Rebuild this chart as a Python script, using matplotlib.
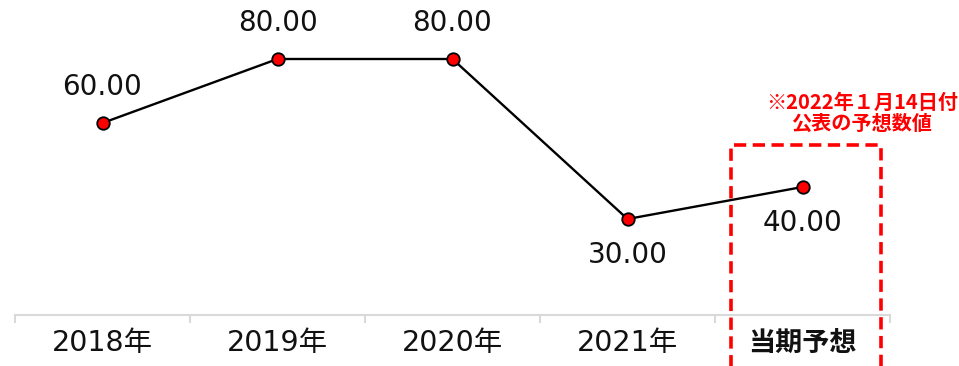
import matplotlib
matplotlib.use("Agg")
import matplotlib.pyplot as plt
from matplotlib.patches import Rectangle
import numpy as np

plt.rcParams['font.family'] = ['DejaVu Sans', 'Noto Sans CJK JP']

categories = ["2018年", "2019年", "2020年", "2021年", "当期予想"]
values = [60.00, 80.00, 80.00, 30.00, 40.00]
label_above = [True, True, True, False, False]
note_text = "※2022年１月14日付\n公表の予想数値"

W, H = 959, 366
fig = plt.figure(figsize=(W / 100, H / 100), dpi=100)
ax = fig.add_axes([15 / W, (H - 315) / H, 875 / W, 315 / H])

x = np.arange(len(categories))
ax.plot(x, values, color="black", lw=1.7, marker="o", markersize=9,
        markerfacecolor="#ff0000", markeredgecolor="black", markeredgewidth=1.3, zorder=3)

for xi, v, up in zip(x, values, label_above):
    ax.annotate(f"{v:.2f}", (xi, v), xytext=(0, 26 if up else -26), textcoords="offset points",
                ha="center", va="center", fontsize=20, color="#111111")

ax.set_xlim(-0.5, len(categories) - 0.5)
ax.set_ylim(0, 315 / 3.2)

for s in ["top", "right", "left"]:
    ax.spines[s].set_visible(False)
ax.spines["bottom"].set_color("#d9d9d9")
ax.spines["bottom"].set_linewidth(1.5)
ax.set_yticks([])
ax.set_xticks(x)
ax.set_xticklabels(categories, fontsize=20.5, color="#111111")
ax.tick_params(axis="x", which="major", length=0, pad=10)
ax.set_xticks(np.arange(-0.5, len(categories)), minor=True)
ax.tick_params(axis="x", which="minor", length=6, width=1.5, color="#d9d9d9")
for lbl in ax.get_xticklabels():
    if lbl.get_text() == "当期予想":
        lbl.set_fontweight("bold")
        lbl.set_fontsize(19.5)
        lbl.set_family(['Noto Sans CJK JP'])

# dashed forecast box
last = len(categories) - 1
rect = Rectangle((last - 0.41, -40), 0.86, 93, fill=False, edgecolor="#ff0000",
                 lw=2.6, linestyle=(0, (3.4, 1.8)), clip_on=False, zorder=4)
ax.add_patch(rect)
ax.text(last + 0.34, 56.5, note_text, ha="center", va="bottom", color="#ff0000",
        fontsize=14.5, fontweight="bold", linespacing=1.0,
        family=['Noto Sans CJK JP', 'DejaVu Sans'])

fig.savefig("out.png", dpi=100)
